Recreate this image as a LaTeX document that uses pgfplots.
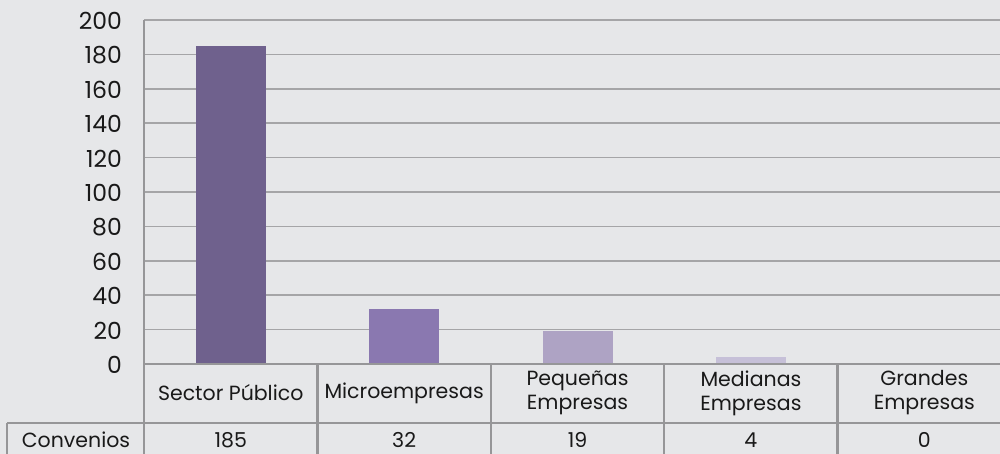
\documentclass[border=0pt]{standalone}
\usepackage{pgfplots}
\pgfplotsset{compat=1.18}
\usepackage{fontspec}
\setmainfont{Poppins}
\definecolor{bg}{RGB}{230,231,233}
\definecolor{gridc}{RGB}{165,165,167}
\definecolor{linec}{RGB}{150,150,152}
\definecolor{txt}{RGB}{25,25,25}
\definecolor{c1}{RGB}{111,97,141}
\definecolor{c2}{RGB}{138,120,176}
\definecolor{c3}{RGB}{174,163,196}
\definecolor{c4}{RGB}{198,192,216}
\definecolor{c5}{RGB}{215,210,228}
\begin{document}
\begin{tikzpicture}[x=1pt,y=1pt]
\useasboundingbox (0,0) rectangle (1000,454);
\fill[bg] (0,0) rectangle (1000,454);
\begin{scope}
\clip (0,0) rectangle (1000,454);
\begin{axis}[
  at={(144pt,90pt)}, anchor=south west,
  scale only axis, width=867pt, height=344pt,
  xmin=-0.5, xmax=4.5, ymin=0, ymax=200,
  ytick={0,20,...,200}, xtick=\empty,
  ymajorgrids, grid style={draw=gridc, line width=1.5pt},
  axis line style={draw=none},
  major tick length=0pt,
  /pgf/number format/assume math mode=true,
  yticklabel style={inner sep=0pt, anchor=east, xshift=-22pt, yshift=-1pt, font=\fontsize{23.5}{26}\selectfont, text=txt},
  ybar, bar width=70pt, bar shift=0pt,
  clip=false,
]
\addplot[fill=c1, draw=none] coordinates {(0,185)};
\addplot[fill=c2, draw=none] coordinates {(1,32)};
\addplot[fill=c3, draw=none] coordinates {(2,19)};
\addplot[fill=c4, draw=none] coordinates {(3,4)};
\addplot[fill=c5, draw=none] coordinates {(4,0)};
\end{axis}
\begin{scope}[draw=linec, line width=2.5pt]
\draw (144,0) -- (144,434);
\draw (144,90) -- (1000,90);
\draw (7,31) -- (1000,31);
\draw (7,0) -- (7,31);
\foreach \xx in {317.4,490.8,664.2,837.6} \draw (\xx,0) -- (\xx,90);
\end{scope}
\begin{scope}[every node/.style={text=txt, font=\fontsize{20.5}{24}\selectfont, align=center}]
\node at (230.7,61) {Sector Público};
\node at (404.1,61) {Microempresas};
\node at (577.5,61) {Pequeñas\\Empresas};
\node at (750.9,61) {Medianas\\Empresas};
\node at (924.3,61) {Grandes\\Empresas};
\node at (76,14) {Convenios};
\node at (230.7,14) {185};
\node at (404.1,14) {32};
\node at (577.5,14) {19};
\node at (750.9,14) {4};
\node at (924.3,14) {0};
\end{scope}
\end{scope}
\end{tikzpicture}
\end{document}
